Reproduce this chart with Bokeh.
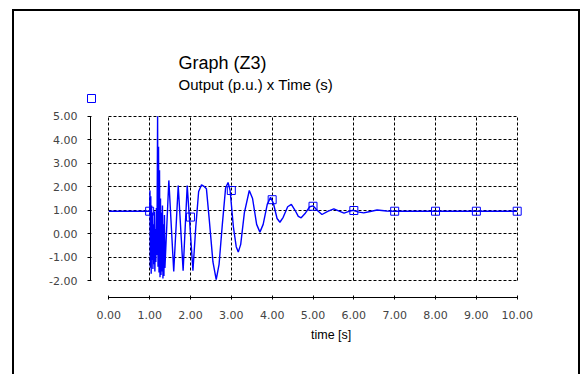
from bokeh.plotting import figure
from bokeh.models import (Range1d, FixedTicker, NumeralTickFormatter, Label,
                          Legend, LegendItem, Title)
from bokeh.embed import file_html
from bokeh.resources import INLINE

# ---------------- data ----------------
title_text = "Graph (Z3)"
subtitle_text = "Output (p.u.) x Time (s)"
x_label = "time [s]"

x_ticks = [0, 1, 2, 3, 4, 5, 6, 7, 8, 9, 10]
y_ticks = [-2, -1, 0, 1, 2, 3, 4, 5]

time_s = [0.0, 1.000, 1.008, 1.018, 1.028, 1.038, 1.048, 1.058, 1.068, 1.080,
          1.092, 1.104, 1.116, 1.128, 1.140, 1.152, 1.165, 1.178, 1.195, 1.205,
          1.218, 1.230, 1.242, 1.254, 1.266, 1.278, 1.290, 1.302, 1.314, 1.326,
          1.338, 1.350, 1.362, 1.374, 1.47, 1.59, 1.70, 1.82, 1.92, 2.06,
          2.13, 2.20, 2.27, 2.33, 2.39, 2.46, 2.55, 2.63, 2.70, 2.78,
          2.86, 2.92, 2.97, 3.05, 3.12, 3.17, 3.23, 3.32, 3.44, 3.52,
          3.62, 3.70, 3.78, 3.88, 3.96, 4.03, 4.12, 4.19, 4.27, 4.38,
          4.47, 4.56, 4.64, 4.71, 4.80, 4.92, 5.00, 5.10, 5.22, 5.36,
          5.51, 5.64, 5.76, 5.88, 5.98, 6.10, 6.24, 6.40, 6.57, 6.80,
          7.00, 10.00]
output_pu = [0.96, 0.96, 1.84, -1.45, 1.60, -1.70, 1.20, -1.10, 0.90, -1.50,
             0.40, -1.30, 0.95, -1.60, 0.20, -1.20, 1.10, -0.90, 5.00, -1.40,
             3.70, -1.65, 2.70, -1.85, 1.50, -1.75, 0.90, -1.60, 1.20, -1.90,
             0.40, -1.80, 0.80, -1.45, 2.27, -1.60, 2.05, -1.57, 2.05, -1.57,
             0.30, 1.80, 2.08, 2.02, 1.92, 0.60, -1.20, -1.95, -1.30, 0.40,
             1.95, 2.18, 1.85, 0.30, -0.55, -0.78, -0.45, 0.90, 1.84, 1.50,
             0.40, 0.07, 0.40, 1.25, 1.55, 1.30, 0.65, 0.49, 0.70, 1.15,
             1.25, 1.00, 0.74, 0.68, 0.85, 1.15, 1.19, 1.00, 0.82, 0.95,
             1.06, 0.96, 0.88, 0.95, 1.00, 0.93, 0.89, 0.95, 1.01, 0.97,
             0.96, 0.96]

marker_time = [1, 2, 3, 4, 5, 6, 7, 8, 9, 10]
marker_output = [0.96, 0.71, 1.84, 1.45, 1.17, 0.99, 0.96, 0.96, 0.96, 0.96]

# ---------------- layout (pixels of the page) ----------------
BLUE = "#0000ff"
W, H = 581, 374                 # canvas size (page has no margin)
F_LEFT, F_RIGHT, F_TOP, F_BOTTOM = 44, 581, 0, 297    # frame, page px
X0_PX, PX_X = 108.3, 40.84      # page x of t=0, px per second
YM2_PX, PX_Y = 280.3, 23.51     # page y of -2 p.u., px per p.u.
AXIS_X_PX = 90                  # page x of the detached y axis
XLABEL_LEFT = 310.5             # page x where "time [s]" starts

def xval(px):
    return x_ticks[0] + (px - X0_PX) / PX_X

def yval(py):
    return y_ticks[0] + (YM2_PX - py) / PX_Y

# outer frame of the picture, drawn behind the (transparent) canvas
bar = "linear-gradient(#000, #000)"
border_css = ", ".join([f"{bar} 12px 9px / 2px 400px no-repeat",
                        f"{bar} 12px 9px / 568px 2px no-repeat",
                        f"{bar} 578px 9px / 2px 400px no-repeat"])

p = figure(width=W, height=H, output_backend="svg", toolbar_location=None,
           x_range=Range1d(xval(F_LEFT), xval(F_RIGHT)),
           y_range=Range1d(yval(F_BOTTOM), yval(F_TOP)),
           min_border_left=F_LEFT, min_border_right=W - F_RIGHT,
           min_border_top=F_TOP, min_border_bottom=H - F_BOTTOM,
           styles={"background": border_css})
p.outline_line_color = None
p.background_fill_color = None
p.border_fill_color = None

xt = FixedTicker(ticks=x_ticks)
yt = FixedTicker(ticks=y_ticks)

xa = p.xaxis[0]
xa.ticker = xt
xa.bounds = (x_ticks[0], x_ticks[-1])
xa.formatter = NumeralTickFormatter(format="0.00")
xa.major_label_text_font = "DejaVu Sans"
xa.major_label_text_font_size = "11px"
xa.major_label_standoff = 11
xa.major_tick_out = 2
xa.major_tick_in = 2
xa.minor_tick_line_color = None
xa.axis_line_color = "black"
xa.major_tick_line_color = "black"

# x-axis title, placed under the tick labels
p.add_layout(Title(text=x_label, align="left", offset=XLABEL_LEFT - F_LEFT,
                   vertical_align="top", standoff=12,
                   text_font="Liberation Sans", text_font_size="12.5px",
                   text_font_style="normal", text_color="black"), "below")

ya = p.yaxis[0]
ya.ticker = yt
ya.bounds = (y_ticks[0], y_ticks[-1])
ya.fixed_location = xval(AXIS_X_PX)
ya.formatter = NumeralTickFormatter(format="0.00")
ya.major_label_text_font = "DejaVu Sans"
ya.major_label_text_font_size = "11px"
ya.major_label_standoff = 10
ya.major_tick_out = 3
ya.major_tick_in = 1
ya.minor_tick_line_color = None
ya.axis_line_color = "black"
ya.major_tick_line_color = "black"

for g, tk, cb in ((p.xgrid[0], xt, (y_ticks[0], y_ticks[-1])),
                  (p.ygrid[0], yt, (x_ticks[0], x_ticks[-1]))):
    g.ticker = tk
    g.cross_bounds = cb
    g.grid_line_color = "black"
    g.grid_line_dash = "3 2"
    g.grid_line_width = 1

p.line(time_s, output_pu, line_color=BLUE, line_width=1.4)
rm = p.scatter(marker_time, marker_output, marker="square", size=8,
               line_color=BLUE, line_width=1, fill_alpha=0)

# legend: a lone square marker above the y axis
LEG_CX, LEG_CY = 90.7, 98.3
legend = Legend(items=[LegendItem(label=" ", renderers=[rm])],
                location=(LEG_CX - 10 - F_LEFT, F_BOTTOM - (LEG_CY + 10)),
                padding=0, margin=0, spacing=0,
                glyph_width=20, glyph_height=20, label_width=0, label_height=20,
                label_standoff=0, border_line_alpha=0, background_fill_alpha=0,
                label_text_font_size="1px")
p.add_layout(legend)

TITLE_X = 178
p.add_layout(Label(x=TITLE_X - F_LEFT, y=F_BOTTOM - 62.5,
                   x_units="screen", y_units="screen",
                   text=title_text, text_font="Liberation Sans",
                   text_font_size="18px", text_align="left",
                   text_baseline="alphabetic", text_color="black"))
p.add_layout(Label(x=TITLE_X - F_LEFT, y=F_BOTTOM - 83.5,
                   x_units="screen", y_units="screen",
                   text=subtitle_text, text_font="Liberation Sans",
                   text_font_size="15px", text_align="left",
                   text_baseline="alphabetic", text_color="black"))

open("out.html", "w").write(file_html(p, INLINE))
